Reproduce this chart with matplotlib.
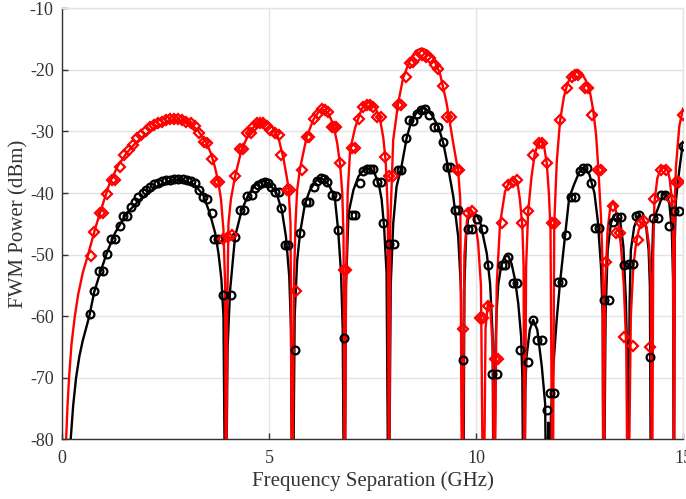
import matplotlib
matplotlib.use("Agg")
import matplotlib.pyplot as plt

# ---------------- data ----------------
red_line_x = [0.06, 0.1, 0.13, 0.17, 0.23, 0.31, 0.39, 0.5, 0.63, 0.8, 1.0, 1.16, 1.35, 1.56, 1.76, 1.96, 2.17, 2.37, 2.55, 2.75, 2.95, 3.15, 3.3, 3.49, 3.6, 3.69, 3.77, 3.84, 3.9, 3.94, 3.96,
              3.99, 4.02, 4.08, 4.18, 4.34, 4.54, 4.7, 4.85, 5.0, 5.1, 5.23, 5.35, 5.47, 5.52, 5.56,
              5.6, 5.64, 5.68, 5.75, 5.91, 6.07, 6.2, 6.3, 6.43, 6.55, 6.65, 6.72, 6.77, 6.8, 6.83,
              6.86, 6.9, 6.96, 7.08, 7.24, 7.40, 7.56, 7.68, 7.76, 7.82, 7.87, 7.9,
              7.93, 8.0, 8.12, 8.24, 8.41, 8.55, 8.69, 8.83, 8.97, 9.13, 9.29, 9.45, 9.57, 9.62, 9.67,
              9.72, 9.78, 9.86, 9.95, 10.05, 10.12, 10.18,
              10.23, 10.29, 10.35, 10.41, 10.44,
              10.5, 10.58, 10.7, 10.8, 10.92, 11.0, 11.06, 11.12, 11.15, 11.17,
              11.21, 11.26, 11.34, 11.42, 11.5, 11.57, 11.64, 11.71, 11.76, 11.8, 11.85,
              11.89, 11.95, 12.03, 12.12, 12.2, 12.31, 12.43, 12.55, 12.66, 12.75, 12.83, 12.9, 12.95, 13.02, 13.06, 13.08,
              13.12, 13.18, 13.24, 13.29, 13.35, 13.42, 13.5, 13.57, 13.63, 13.67,
              13.74, 13.8, 13.86, 13.93, 14.0, 14.05, 14.12, 14.18, 14.22, 14.25,
              14.28, 14.31, 14.38, 14.47, 14.55, 14.63, 14.68, 14.73, 14.76, 14.78,
              14.8, 14.83, 14.91, 15.0]
red_line_y = [-100, -80, -75, -70, -64.5, -60, -56.5, -53, -50, -45.8, -41.5, -38.2, -35.6, -33.5, -32.0, -30.8, -29.8, -29.0, -28.4, -28.1, -28.3, -29.0, -30.0, -31.9, -33.6, -35.7, -38, -41, -46, -55, -100,
              -60, -45, -41, -37.3, -32.9, -30.0, -28.8, -28.4, -28.7, -29.4, -31.1, -34.4, -39.0, -45, -100,
              -55, -45, -39.5, -36.0, -30.9, -28.1, -26.8, -26.4, -27.0, -28.8, -32, -35.5, -40, -47, -100,
              -55, -40, -33.0, -29.4, -26.3, -25.2, -26.0, -27.9, -31, -35, -43, -100,
              -45, -31.4, -25.4, -21.3, -18.3, -16.9, -16.5, -16.9, -18.1, -20.6, -25.4, -31.9, -36.5, -41, -100,
              -50, -44.5, -42.5, -43.5, -48, -55, -100,
              -62, -57.7, -59, -66, -100,
              -55, -45, -39.8, -38.2, -37.6, -38.3, -41.0, -45.5, -52, -100,
              -52, -43.0, -37.4, -33.6, -32.0, -31.6, -32.2, -35.2, -40, -46, -100,
              -45, -35, -28.3, -24.5, -22.4, -20.7, -20.0, -20.5, -21.8, -23.5, -26.5, -30.5, -35.5, -44, -52, -100,
              -55, -46, -42.5, -41.5, -42.0, -44.3, -48.5, -55, -65, -100,
              -60, -52, -48.5, -46, -44.8, -44.6, -45.5, -48.5, -54, -100,
              -50, -41.5, -37.6, -35.9, -35.6, -36.3, -37.8, -41.1, -48, -100,
              -42, -35.7, -29.2, -26.3]

black_line_x = [0.15, 0.21, 0.27, 0.34, 0.42, 0.5, 0.58, 0.66, 0.78, 0.94, 1.08, 1.28, 1.56, 1.88, 2.29, 2.61, 2.8, 2.93, 3.21, 3.41, 3.57, 3.70, 3.78, 3.85, 3.9, 3.95,
                4.0, 4.06, 4.18, 4.34, 4.50, 4.70, 4.86, 5.02, 5.18, 5.31, 5.41, 5.49, 5.53, 5.57,
                5.62, 5.68, 5.75, 5.87, 5.99, 6.15, 6.25, 6.35, 6.47, 6.59, 6.67, 6.74, 6.78, 6.82,
                6.86, 6.92, 7.04, 7.16, 7.28, 7.44, 7.55, 7.65, 7.72, 7.78, 7.84, 7.89,
                7.94, 8.0, 8.08, 8.2, 8.33, 8.45, 8.61, 8.77, 8.93, 9.09, 9.21, 9.33, 9.45, 9.57, 9.64, 9.69,
                9.72, 9.76, 9.81, 9.93, 10.02, 10.1, 10.26, 10.34, 10.4, 10.43,
                10.47, 10.5, 10.54, 10.62, 10.7, 10.78, 10.86, 10.94, 11.02, 11.09, 11.12, 11.15,
                11.19, 11.22, 11.3, 11.38, 11.48, 11.59, 11.67, 11.71,
                11.745, 11.77,
                11.81, 11.87, 11.95, 12.03, 12.15, 12.25, 12.37, 12.5, 12.62, 12.74, 12.86, 12.94, 13.02, 13.06, 13.08,
                13.13, 13.18, 13.26, 13.33, 13.4, 13.48, 13.56, 13.62, 13.65, 13.67,
                13.71, 13.74, 13.82, 13.93, 14.03, 14.11, 14.17, 14.2, 14.23,
                14.25, 14.28, 14.39, 14.51, 14.59, 14.67, 14.73, 14.76, 14.78,
                14.8, 14.83, 14.91, 15.0]
black_line_y = [-100, -80, -74.5, -70, -66.5, -64, -62, -60, -56, -52.6, -49.8, -46.5, -43.3, -41.1, -39.0, -38.0, -37.8, -37.9, -38.7, -40.3, -43.3, -46.5, -49.8, -54, -60, -100,
                -65, -55.8, -47.1, -42.8, -40.3, -38.4, -38.0, -38.6, -40.0, -42.8, -47.1, -53.6, -62, -100,
                -60, -51, -46.5, -41.7, -39.5, -37.9, -37.6, -37.9, -39.0, -40.8, -46.0, -53, -62, -100,
                -55, -43.3, -39.5, -37.3, -36.3, -36.0, -36.8, -38.5, -41, -45.5, -53, -100,
                -55, -45, -39, -35.7, -30.9, -28.1, -26.5, -26.2, -27.3, -29.2, -31.9, -36.0, -40.5, -47.1, -56, -100,
                -55, -47, -44.2, -43.3, -43.6, -44.7, -49.8, -54.7, -62.8, -100,
                -65, -59, -54.7, -51.4, -50.3, -50.2, -51.5, -54, -57.9, -63.3, -70, -100,
                -72, -66.6, -62.2, -60.6, -62.2, -68.2, -74.2, -100,
                -77.3, -100,
                -76, -68, -60.5, -54.5, -47.1, -40.8, -38.6, -36.5, -35.9, -37.0, -40.0, -44.4, -52, -60, -100,
                -60, -49.3, -44.9, -43.6, -43.6, -44.4, -48.7, -57.4, -66, -100,
                -58, -49.3, -45.5, -43.6, -44.1, -45.5, -49.3, -55, -100,
                -52, -44.4, -42.6, -40.3, -40.0, -41.7, -46, -54, -100,
                -48, -41.1, -36.3, -31.7]

red_pts_x = [0.69, 0.78, 0.92, 0.98, 1.09, 1.20, 1.28, 1.40, 1.50, 1.61, 1.71, 1.82, 1.92, 2.03, 2.13, 2.23, 2.33, 2.41, 2.51, 2.61, 2.71, 2.81, 2.89, 2.99, 3.11, 3.21, 3.32, 3.43, 3.51, 3.62, 3.72, 3.80, 3.88,
             4.02, 4.10, 4.18, 4.30, 4.38, 4.48, 4.56, 4.62, 4.70, 4.78, 4.86, 4.94, 5.02, 5.14, 5.23, 5.29, 5.43, 5.51, 5.65,
             5.79, 5.91, 5.97, 6.09, 6.19, 6.27, 6.35, 6.43, 6.51, 6.57, 6.63, 6.71, 6.81, 6.87,
             7.0, 7.08, 7.18, 7.28, 7.36, 7.44, 7.52, 7.60, 7.70, 7.80, 7.91, 7.99,
             8.12, 8.18, 8.31, 8.41, 8.49, 8.58, 8.69, 8.79, 8.89, 9.01, 9.09, 9.21, 9.29, 9.39, 9.53, 9.60,
             9.69, 9.81, 9.90, 10.10, 10.17, 10.30, 10.46, 10.54, 10.62, 10.78, 10.89, 10.98, 11.10,
             11.26, 11.38, 11.51, 11.59, 11.71, 11.83, 11.91, 12.03, 12.19, 12.31, 12.39, 12.47, 12.63, 12.71, 12.79, 12.95, 13.02,
             13.14, 13.30, 13.38, 13.48, 13.58, 13.79, 13.91, 13.99, 14.07, 14.2, 14.31, 14.47, 14.59, 14.71, 14.83, 14.91, 14.99]
red_pts_y = [-50.2, -46.4, -43.2, -43.2, -40.2, -37.9, -37.9, -35.7, -33.8, -33.0, -32.2, -31.1, -30.6, -29.9, -29.2, -29.0, -28.6, -28.4, -28.1, -28.0, -28.0, -28.0, -28.1, -28.4, -28.7, -29.1, -30.2, -31.7, -31.9, -34.4, -38.2, -38.2, -47.4,
             -47.1, -46.8, -37.3, -32.9, -32.9, -30.3, -30.2, -29.3, -28.7, -28.7, -28.7, -29.1, -29.7, -30.3, -30.6, -33.8, -39.5, -39.5, -55.9,
             -36.3, -30.9, -30.9, -28.0, -27.1, -26.3, -26.5, -26.8, -29.2, -29.2, -29.2, -35.1, -52.5, -52.5,
             -32.7, -32.7, -28.0, -26.0, -25.7, -25.7, -26.0, -27.6, -27.7, -34.2, -37.3, -37.3,
             -25.7, -25.7, -21.1, -18.9, -18.7, -17.9, -17.6, -17.9, -18.1, -19.2, -19.9, -22.7, -27.7, -27.7, -36.3, -36.3,
             -62.1, -43.3, -43.0, -60.3, -60.3, -58.4, -66.9, -66.9, -44.8, -38.7, -38.2, -37.9, -44.9,
             -43.0, -33.8, -31.9, -31.8, -35.2, -44.9, -44.9, -28.1, -23.0, -21.1, -20.8, -20.8, -23.0, -23.0, -27.3, -36.3, -36.3,
             -51.2, -42.1, -46.5, -46.5, -63.4, -64.8, -47.6, -44.9, -44.5, -65.0, -40.9, -36.3, -36.3, -40.9, -38.2, -38.2, -27.3]

black_pts_x = [0.68, 0.78, 0.89, 0.99, 1.08, 1.18, 1.28, 1.39, 1.47, 1.56, 1.66, 1.76, 1.84, 1.95, 2.03, 2.13, 2.22, 2.33, 2.41, 2.51, 2.61, 2.71, 2.81, 2.92, 3.01, 3.11, 3.21, 3.32, 3.41, 3.51, 3.62, 3.67, 3.78, 3.90,
               4.08, 4.18, 4.30, 4.40, 4.48, 4.58, 4.66, 4.74, 4.82, 4.90, 4.98, 5.06, 5.14, 5.23, 5.28, 5.39, 5.47, 5.63,
               5.75, 5.89, 5.97, 6.09, 6.17, 6.25, 6.33, 6.41, 6.51, 6.61, 6.67, 6.82,
               7.0, 7.08, 7.20, 7.28, 7.36, 7.44, 7.52, 7.60, 7.70, 7.76, 7.91, 8.02,
               8.12, 8.20, 8.31, 8.39, 8.47, 8.57, 8.66, 8.77, 8.87, 8.99, 9.09, 9.20, 9.29, 9.37, 9.49, 9.57,
               9.68, 9.81, 9.90, 10.02, 10.18, 10.28, 10.38, 10.50, 10.62, 10.70, 10.78, 10.90, 11.0, 11.06,
               11.26, 11.38, 11.48, 11.59, 11.71, 11.79, 11.88, 11.99, 12.07, 12.17, 12.29, 12.40, 12.50, 12.58, 12.67, 12.78, 12.88, 12.96,
               13.10, 13.21, 13.30, 13.40, 13.50, 13.58, 13.70, 13.79, 13.86, 13.94, 14.2, 14.28, 14.39, 14.47, 14.57, 14.67, 14.79, 14.91, 14.99]
black_pts_y = [-59.6, -55.9, -52.6, -52.6, -49.9, -47.4, -47.4, -45.4, -43.7, -43.7, -42.2, -41.4, -40.7, -40.0, -39.5, -39.0, -38.5, -38.3, -38.0, -37.9, -37.9, -37.8, -37.8, -37.8, -37.9, -38.0, -38.3, -39.5, -40.7, -41.0, -43.3, -47.4, -47.4, -56.6,
               -56.6, -47.1, -42.8, -42.8, -40.5, -40.3, -39.2, -38.7, -38.3, -38.2, -38.3, -39.0, -39.8, -39.8, -42.5, -48.4, -48.4, -65.5,
               -46.5, -41.4, -41.4, -39.0, -38.0, -37.6, -37.8, -38.2, -40.3, -40.5, -46.0, -63.5,
               -43.6, -43.6, -38.4, -36.4, -36.1, -36.1, -36.1, -38.2, -38.2, -44.9, -48.2, -48.2,
               -36.3, -36.3, -31.1, -28.1, -28.3, -27.1, -26.5, -26.4, -27.3, -29.2, -29.2, -31.7, -35.7, -35.7, -42.8, -42.8,
               -67.1, -45.9, -45.9, -44.3, -45.9, -51.7, -69.4, -69.4, -51.7, -51.7, -50.4, -54.6, -54.6, -65.5,
               -67.4, -60.6, -63.9, -63.9, -75.2, -72.5, -72.5, -54.4, -54.4, -46.8, -40.6, -40.6, -36.5, -36.0, -36.0, -38.4, -45.7, -45.7,
               -57.3, -57.3, -44.7, -43.9, -43.9, -51.7, -51.5, -51.5, -43.8, -43.6, -66.7, -44.1, -44.1, -40.3, -40.3, -45.4, -42.9, -42.9, -32.4]

x_ticks = [0, 5, 10, 15]
y_ticks = [-80, -70, -60, -50, -40, -30, -20, -10]

# ---------------- style ----------------
plt.rcParams['font.family'] = ['Liberation Serif', 'DejaVu Serif']
plt.rcParams['axes.unicode_minus'] = False

fig = plt.figure(figsize=(6.86, 4.99), dpi=100)
ax = fig.add_axes([62 / 686, 1 - 439.3 / 499, (683 - 62) / 686, (439.3 - 8.3) / 499])

ax.plot(black_line_x, black_line_y, color='black', lw=1.7, zorder=3)
ax.plot(red_line_x, red_line_y, color='#ff0000', lw=1.7, zorder=4)
ax.plot(black_pts_x, black_pts_y, linestyle='none', marker='o', ms=5.6,
        mfc='none', mec='black', mew=1.6, zorder=5)
ax.plot(red_pts_x, red_pts_y, linestyle='none', marker='D', ms=5.0,
        mfc='none', mec='#ff0000', mew=1.6, zorder=6)

ax.set_xlim(0, 15)
ax.set_ylim(-80, -10)
ax.set_xticks(x_ticks)
ax.set_yticks(y_ticks)
ax.set_xticklabels([str(t) for t in x_ticks])
ax.set_yticklabels([str(t) for t in y_ticks])

ax.grid(True, color='#e3e3e3', lw=1.0, zorder=0)
ax.set_axisbelow(True)
for side in ['top', 'right']:
    ax.spines[side].set_color('#e3e3e3')
    ax.spines[side].set_linewidth(1.0)
for side in ['left', 'bottom']:
    ax.spines[side].set_color('#333333')
    ax.spines[side].set_linewidth(1.0)

ax.tick_params(axis='both', direction='in', length=4, width=1, color='#333333',
               labelsize=13, labelcolor='#333333', top=False, right=False)
ax.tick_params(axis='x', pad=8)
ax.tick_params(axis='y', pad=6)

ax.set_xlabel('Frequency Separation (GHz)', fontsize=15, color='#333333', labelpad=3)
ax.set_ylabel('FWM Power (dBm)', fontsize=15, color='#333333', labelpad=1)

fig.savefig('out.png', dpi=100)
